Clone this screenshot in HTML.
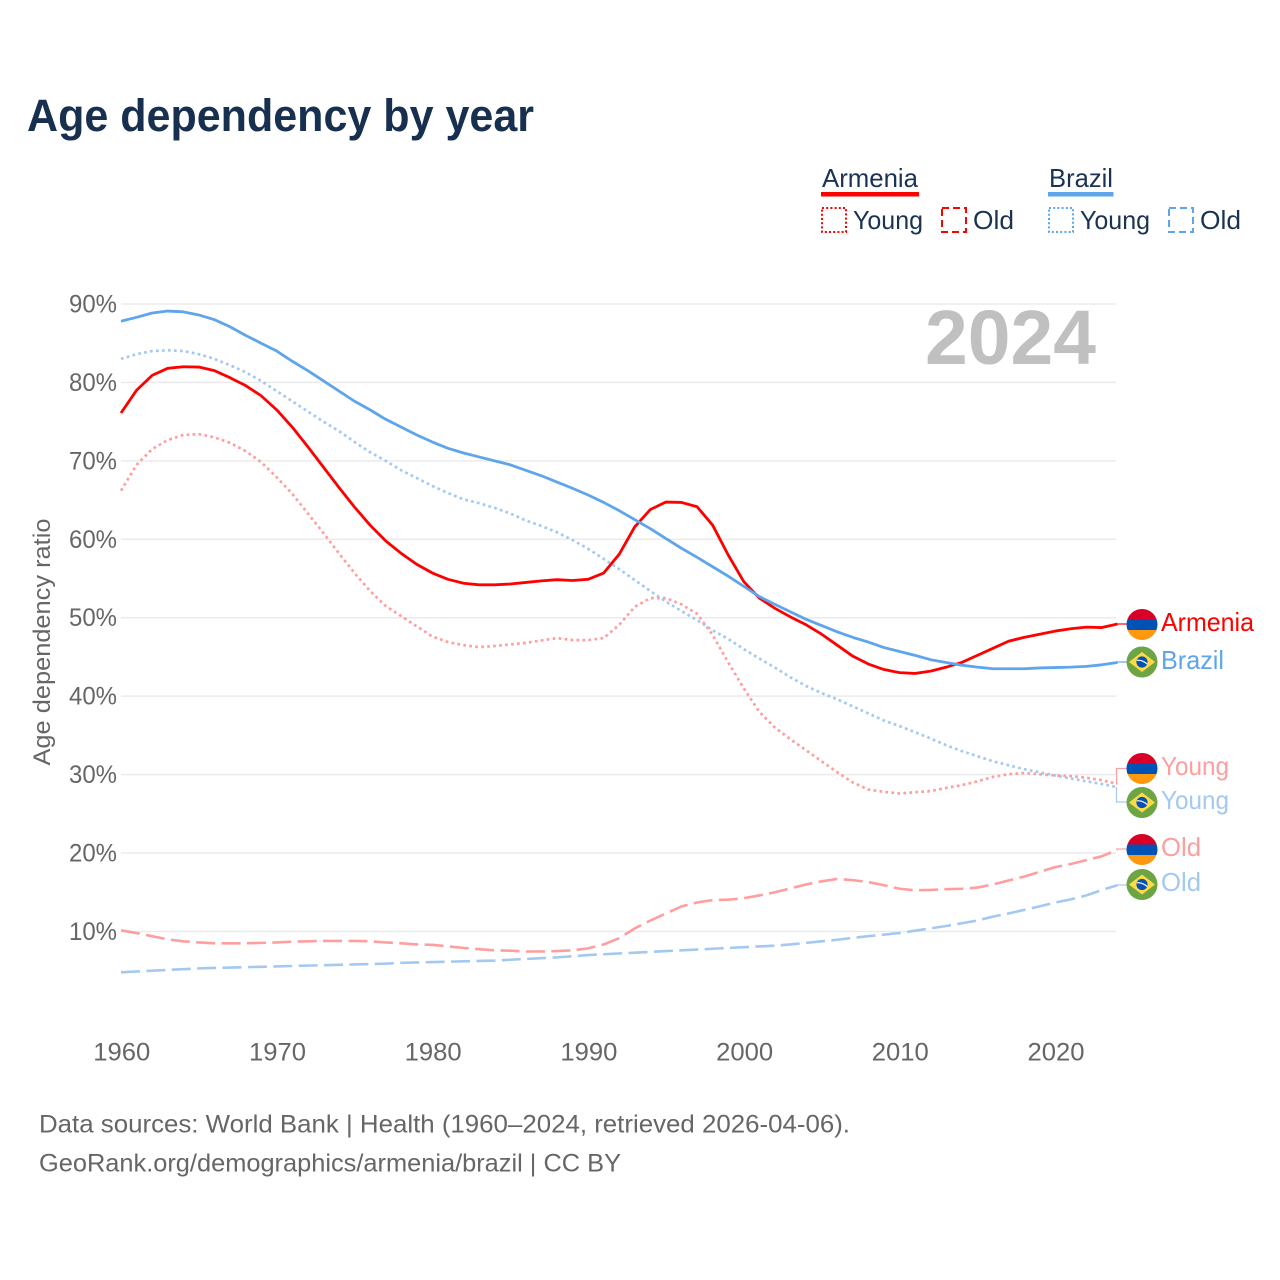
<!DOCTYPE html>
<html lang="en">
<head>
<meta charset="utf-8">
<title>Age dependency by year</title>
<style>
html,body{margin:0;padding:0;background:#fff;}
svg{display:block;font-family:"Liberation Sans",sans-serif;}
</style>
</head>
<body>
<svg id="chart" xmlns="http://www.w3.org/2000/svg" width="1280" height="1280" viewBox="0 0 1280 1280">
  <defs>
    <clipPath id="flag-clip"><circle cx="0" cy="0" r="15.5"/></clipPath>
    <symbol id="flag-am" overflow="visible">
      <g clip-path="url(#flag-clip)">
        <rect x="-16" y="-16" width="32" height="11" fill="#d80027"/>
        <rect x="-16" y="-5" width="32" height="10.5" fill="#0052b4"/>
        <rect x="-16" y="5.5" width="32" height="11" fill="#ff9811"/>
      </g>
    </symbol>
    <symbol id="flag-br" overflow="visible">
      <circle cx="0" cy="0" r="15.5" fill="#6da544"/>
      <polygon points="0,-10 13,0 0,10 -13,0" fill="#ffda44"/>
      <circle cx="0" cy="0" r="5.6" fill="#0052b4"/>
      <path d="M-5.2,-1.6 Q0,-2.4 5.2,2" fill="none" stroke="#f0f0f0" stroke-width="1.3"/>
    </symbol>
  </defs>
  <rect x="0" y="0" width="1280" height="1280" fill="#ffffff"/>
  <text x="27" y="131" font-size="45" font-weight="700" fill="#18304f" textLength="507" lengthAdjust="spacingAndGlyphs">Age dependency by year</text>

  <g>
    <g>
      <text x="822" y="187" font-size="26" fill="#1a3352" textLength="96" lengthAdjust="spacingAndGlyphs">Armenia</text>
      <rect x="821" y="192" width="98" height="4.5" fill="#ff0000"/>
      <rect x="822" y="208" width="24" height="24" fill="none" stroke="#ff0000" stroke-width="2" stroke-dasharray="2 2.2"/>
      <text x="853" y="229" font-size="26" fill="#1a3352" textLength="70" lengthAdjust="spacingAndGlyphs">Young</text>
      <rect x="942" y="208" width="24" height="24" fill="none" stroke="#ff0000" stroke-width="2" stroke-dasharray="7 4"/>
      <text x="973" y="229" font-size="26" fill="#1a3352" textLength="41" lengthAdjust="spacingAndGlyphs">Old</text>
    </g>
    <g>
      <text x="1049" y="187" font-size="26" fill="#1a3352" textLength="64" lengthAdjust="spacingAndGlyphs">Brazil</text>
      <rect x="1048" y="192" width="65.5" height="4.5" fill="#5ea5ec"/>
      <rect x="1049" y="208" width="24" height="24" fill="none" stroke="#5ea5ec" stroke-width="2" stroke-dasharray="2 2.2"/>
      <text x="1080" y="229" font-size="26" fill="#1a3352" textLength="70" lengthAdjust="spacingAndGlyphs">Young</text>
      <rect x="1169" y="208" width="24" height="24" fill="none" stroke="#5ea5ec" stroke-width="2" stroke-dasharray="7 4"/>
      <text x="1200" y="229" font-size="26" fill="#1a3352" textLength="41" lengthAdjust="spacingAndGlyphs">Old</text>
    </g>
  </g>

  <g id="grid"></g>
  <text x="925" y="364" font-size="77" font-weight="700" fill="#c0c0c0" textLength="171" lengthAdjust="spacingAndGlyphs">2024</text>
  <g id="y-ticks"></g>
  <g id="x-ticks"></g>
  <text transform="translate(50,642) rotate(-90)" text-anchor="middle" font-size="24" fill="#666666" textLength="247" lengthAdjust="spacingAndGlyphs">Age dependency ratio</text>
  <g id="series"></g>

  <g>
    <polyline points="1116,624 1127,624" fill="none" stroke="#ff0000" stroke-width="1.2"/>
    <polyline points="1116,662 1127,662" fill="none" stroke="#5ea5ec" stroke-width="1.2"/>
    <polyline points="1127,768.5 1116.5,768.5 1116.5,784" fill="none" stroke="#ff9e9e" stroke-width="1.2"/>
    <polyline points="1127,802 1116.5,802 1116.5,787" fill="none" stroke="#a3c9f1" stroke-width="1.2"/>
    <polyline points="1116,849 1127,849" fill="none" stroke="#ff9e9e" stroke-width="1.2"/>
    <polyline points="1116,885 1127,885" fill="none" stroke="#a3c9f1" stroke-width="1.2"/>

    <use href="#flag-am" x="1142" y="624.5"/>
    <use href="#flag-br" x="1142" y="662"/>
    <use href="#flag-am" x="1142" y="768.5"/>
    <use href="#flag-br" x="1142" y="802.5"/>
    <use href="#flag-am" x="1142" y="849.5"/>
    <use href="#flag-br" x="1142" y="884.5"/>

    <text x="1161" y="631" font-size="26" fill="#ff0000" textLength="93" lengthAdjust="spacingAndGlyphs">Armenia</text>
    <text x="1161" y="669" font-size="26" fill="#5ea5ec" textLength="63" lengthAdjust="spacingAndGlyphs">Brazil</text>
    <text x="1161" y="775" font-size="26" fill="#ff9e9e" textLength="68" lengthAdjust="spacingAndGlyphs">Young</text>
    <text x="1161" y="809" font-size="26" fill="#a3c9f1" textLength="68" lengthAdjust="spacingAndGlyphs">Young</text>
    <text x="1161" y="856" font-size="26" fill="#ff9e9e" textLength="40" lengthAdjust="spacingAndGlyphs">Old</text>
    <text x="1161" y="891" font-size="26" fill="#a3c9f1" textLength="40" lengthAdjust="spacingAndGlyphs">Old</text>
  </g>

  <text x="39" y="1132.5" font-size="25" fill="#666666" textLength="811" lengthAdjust="spacingAndGlyphs">Data sources: World Bank | Health (1960–2024, retrieved 2026-04-06).</text>
  <text x="39" y="1171.5" font-size="25" fill="#666666" textLength="582" lengthAdjust="spacingAndGlyphs">GeoRank.org/demographics/armenia/brazil | CC BY</text>
</svg>
<script>
const startYear = 1960;
const yTickValues = [90, 80, 70, 60, 50, 40, 30, 20, 10];
const xTickValues = [1960, 1970, 1980, 1990, 2000, 2010, 2020];

const armeniaTotal = [76.1,79.0,80.9,81.8,82.0,81.96,81.5,80.6,79.6,78.3,76.5,74.3,71.8,69.2,66.6,64.1,61.8,59.8,58.2,56.8,55.7,54.9,54.4,54.2,54.2,54.3,54.5,54.7,54.85,54.75,54.9,55.7,58.1,61.6,63.8,64.75,64.7,64.15,61.8,58.0,54.6,52.5,51.2,50.1,49.1,47.9,46.5,45.1,44.1,43.4,43.0,42.9,43.2,43.7,44.3,45.2,46.1,47.0,47.5,47.9,48.3,48.6,48.8,48.75,49.2];
const brazilTotal = [87.8,88.3,88.85,89.1,89.0,88.6,88.0,87.1,86.0,85.0,84.0,82.7,81.5,80.2,78.9,77.6,76.5,75.3,74.3,73.3,72.4,71.6,71.0,70.5,70.0,69.5,68.8,68.1,67.3,66.5,65.65,64.7,63.65,62.5,61.35,60.1,58.85,57.7,56.5,55.3,54.0,52.7,51.7,50.75,49.8,49.0,48.2,47.5,46.9,46.2,45.7,45.2,44.65,44.3,43.95,43.7,43.5,43.5,43.5,43.6,43.65,43.7,43.8,44.0,44.3];
const armeniaYoung = [66.2,69.5,71.5,72.65,73.3,73.4,73.0,72.3,71.25,69.85,67.9,65.8,63.3,60.8,58.2,55.7,53.4,51.5,50.2,48.9,47.6,46.9,46.5,46.25,46.4,46.6,46.8,47.1,47.4,47.15,47.15,47.4,49.1,51.4,52.5,52.5,51.7,50.5,47.8,44.3,41.0,38.0,36.0,34.5,33.1,31.7,30.3,29.0,28.1,27.8,27.6,27.75,27.9,28.3,28.65,29.15,29.7,30.05,30.2,30.05,29.9,29.8,29.6,29.3,28.8];
const brazilYoung = [83.0,83.6,84.0,84.1,84.0,83.6,83.0,82.2,81.3,80.2,78.9,77.6,76.3,75.0,73.8,72.4,71.1,70.0,68.8,67.8,66.8,65.9,65.1,64.6,64.0,63.3,62.4,61.7,60.9,59.9,58.8,57.5,56.2,54.8,53.4,52.05,50.85,49.7,48.4,47.3,46.0,44.8,43.65,42.4,41.3,40.4,39.6,38.7,37.8,36.9,36.2,35.4,34.6,33.75,33.0,32.35,31.7,31.2,30.7,30.3,29.9,29.5,29.15,28.8,28.4];
const armeniaOld = [10.15,9.8,9.4,9.0,8.75,8.6,8.5,8.5,8.5,8.55,8.6,8.7,8.75,8.8,8.8,8.8,8.75,8.6,8.5,8.35,8.3,8.1,7.9,7.75,7.6,7.55,7.45,7.45,7.5,7.6,7.85,8.35,9.15,10.4,11.4,12.3,13.2,13.7,14.0,14.05,14.25,14.6,15.0,15.5,16.0,16.4,16.7,16.55,16.3,15.9,15.45,15.25,15.3,15.4,15.45,15.6,16.0,16.5,17.0,17.6,18.2,18.6,19.1,19.6,20.4];
const brazilOld = [4.8,4.9,5.0,5.1,5.2,5.3,5.35,5.4,5.45,5.5,5.55,5.6,5.65,5.7,5.75,5.8,5.85,5.9,6.0,6.05,6.1,6.15,6.2,6.25,6.3,6.4,6.5,6.6,6.7,6.85,7.0,7.1,7.2,7.3,7.4,7.5,7.6,7.7,7.8,7.9,8.0,8.1,8.2,8.35,8.55,8.75,8.95,9.2,9.4,9.6,9.8,10.1,10.4,10.7,11.05,11.4,11.9,12.3,12.75,13.2,13.7,14.1,14.6,15.3,15.9];

const svgNS = 'http://www.w3.org/2000/svg';
function xScale(year) { return 121 + (year - 1960) * 15.57; }
function yScale(value) { return 931.5 + (10 - value) * 7.844; }

function makeText(parent, x, y, str, anchor, len) {
  const t = document.createElementNS(svgNS, 'text');
  t.setAttribute('x', x);
  t.setAttribute('y', y);
  t.setAttribute('text-anchor', anchor);
  t.setAttribute('font-size', '25');
  t.setAttribute('fill', '#666666');
  t.setAttribute('textLength', len);
  t.setAttribute('lengthAdjust', 'spacingAndGlyphs');
  t.textContent = str;
  parent.appendChild(t);
  return t;
}

const gridGroup = document.getElementById('grid');
const yTickGroup = document.getElementById('y-ticks');
yTickValues.forEach(function (v) {
  const line = document.createElementNS(svgNS, 'line');
  line.setAttribute('x1', 121);
  line.setAttribute('x2', 1116);
  line.setAttribute('y1', yScale(v));
  line.setAttribute('y2', yScale(v));
  line.setAttribute('stroke', '#ebebeb');
  line.setAttribute('stroke-width', '1.5');
  
  
  gridGroup.appendChild(line);
  const label = makeText(yTickGroup, 117, yScale(v) + 8.5, v + '%', 'end', 48);
  
  
});

const xTickGroup = document.getElementById('x-ticks');
xTickValues.forEach(function (yr) {
  const label = makeText(xTickGroup, xScale(yr) + 0.8, 1060.5, String(yr), 'middle', 57);
  
  
});

const seriesGroup = document.getElementById('series');
function drawSeries(values, name, color, dash, width) {
  const p = document.createElementNS(svgNS, 'path');
  const d = values.map(function (v, i) {
    return (i ? 'L' : 'M') + xScale(startYear + i).toFixed(2) + ' ' + yScale(v).toFixed(2);
  }).join(' ');
  p.setAttribute('d', d);
  p.setAttribute('fill', 'none');
  p.setAttribute('stroke', color);
  p.setAttribute('stroke-width', width);
  p.setAttribute('stroke-linejoin', 'round');
  if (dash) p.setAttribute('stroke-dasharray', dash);
  
  
  seriesGroup.appendChild(p);
}
drawSeries(brazilOld, 'line-brazil-old', '#a3c9f1', '19 6.4', 2.6);
drawSeries(armeniaOld, 'line-armenia-old', '#ff9e9e', '19 6.4', 2.6);
drawSeries(brazilYoung, 'line-brazil-young', '#a3c9f1', '2.7 3.3', 2.7);
drawSeries(armeniaYoung, 'line-armenia-young', '#ff9e9e', '2.7 3.3', 2.7);
drawSeries(armeniaTotal, 'line-armenia-total', '#ff0000', '', 2.8);
drawSeries(brazilTotal, 'line-brazil-total', '#5ea5ec', '', 2.8);
</script>
</body>
</html>
